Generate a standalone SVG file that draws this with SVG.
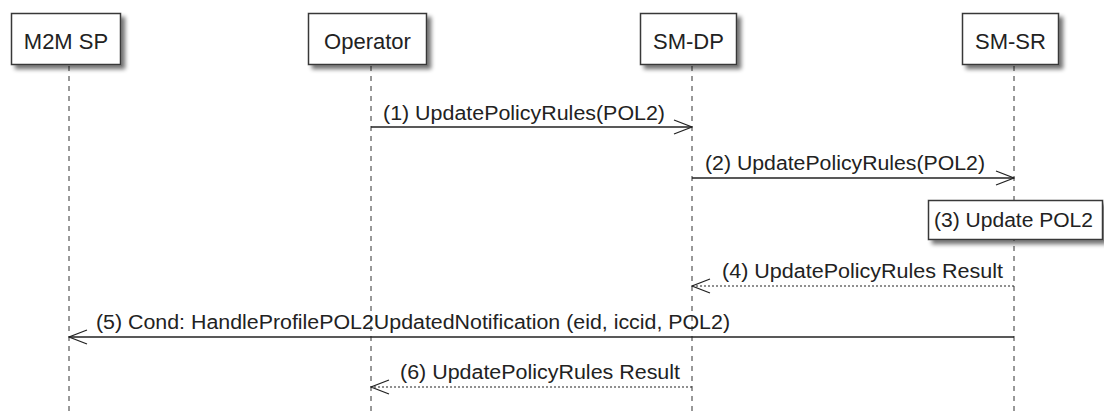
<svg xmlns="http://www.w3.org/2000/svg" width="1104" height="412" viewBox="0 0 1104 412">
<defs>
<filter id="sh" x="-20%" y="-20%" width="150%" height="160%">
<feGaussianBlur in="SourceAlpha" stdDeviation="2"/>
<feOffset dx="4" dy="4" result="b"/>
<feComponentTransfer><feFuncA type="linear" slope="0.55"/></feComponentTransfer>
<feMerge><feMergeNode/><feMergeNode in="SourceGraphic"/></feMerge>
</filter>
<marker id="open" viewBox="0 0 20 16" refX="19" refY="8" markerWidth="20" markerHeight="16" markerUnits="userSpaceOnUse" orient="auto">
<path d="M1,1 L19,8 L1,15" fill="none" stroke="#222" stroke-width="1.3"/>
</marker>
</defs>
<style>
.box{fill:#fff;stroke:#383838;stroke-width:1.5}
.life{stroke:#333;stroke-width:1;stroke-dasharray:5,5;fill:none}
.pt{font-family:"Liberation Sans",Arial,sans-serif;font-size:22px;fill:#222;text-anchor:middle}
.mt{font-family:"Liberation Sans",Arial,sans-serif;font-size:19.5px;fill:#222}
.msg{stroke:#222;stroke-width:1.3;fill:none;marker-end:url(#open)}
.ret{stroke:#222;stroke-width:1.1;stroke-dasharray:2,2;fill:none;marker-end:url(#open)}
</style>
<rect width="1104" height="412" fill="#fff"/>
<g id="lifelines">
<line class="life" x1="69" y1="66" x2="69" y2="412"/>
<line class="life" x1="371" y1="66" x2="371" y2="412"/>
<line class="life" x1="692" y1="66" x2="692" y2="412"/>
<line class="life" x1="1014" y1="66" x2="1014" y2="412"/>
</g>
<g id="m2msp">
<rect class="box" x="11.5" y="13.5" width="109" height="51" filter="url(#sh)"/>
<text class="pt" x="66" y="49">M2M SP</text>
</g>
<g id="operator">
<rect class="box" x="308.5" y="13.5" width="118" height="51" filter="url(#sh)"/>
<text class="pt" x="367.5" y="49">Operator</text>
</g>
<g id="smdp">
<rect class="box" x="640.5" y="13.5" width="96" height="51" filter="url(#sh)"/>
<text class="pt" x="688.5" y="49">SM-DP</text>
</g>
<g id="smsr">
<rect class="box" x="962.5" y="13.5" width="96" height="51" filter="url(#sh)"/>
<text class="pt" x="1010.5" y="49">SM-SR</text>
</g>
<g id="note3">
<rect class="box" x="928.5" y="200.5" width="174" height="39" filter="url(#sh)"/>
<text class="mt" x="934" y="227" textLength="159" lengthAdjust="spacingAndGlyphs">(3) Update POL2</text>
</g>
<g id="connectors">
<line class="msg" x1="371" y1="127" x2="692" y2="127"/>
<text class="mt" x="383" y="120" textLength="282" lengthAdjust="spacingAndGlyphs">(1) UpdatePolicyRules(POL2)</text>
<line class="msg" x1="692" y1="178" x2="1014" y2="178"/>
<text class="mt" x="705" y="170" textLength="280" lengthAdjust="spacingAndGlyphs">(2) UpdatePolicyRules(POL2)</text>
<line class="ret" x1="1014" y1="286" x2="692" y2="286"/>
<text class="mt" x="722" y="278" textLength="281" lengthAdjust="spacingAndGlyphs">(4) UpdatePolicyRules Result</text>
<line class="msg" x1="1014" y1="337" x2="69" y2="337"/>
<text class="mt" x="96" y="329" textLength="634" lengthAdjust="spacingAndGlyphs">(5) Cond: HandleProfilePOL2UpdatedNotification (eid, iccid, POL2)</text>
<line class="ret" x1="692" y1="387" x2="371" y2="387"/>
<text class="mt" x="400" y="379" textLength="280" lengthAdjust="spacingAndGlyphs">(6) UpdatePolicyRules Result</text>
</g>
</svg>
